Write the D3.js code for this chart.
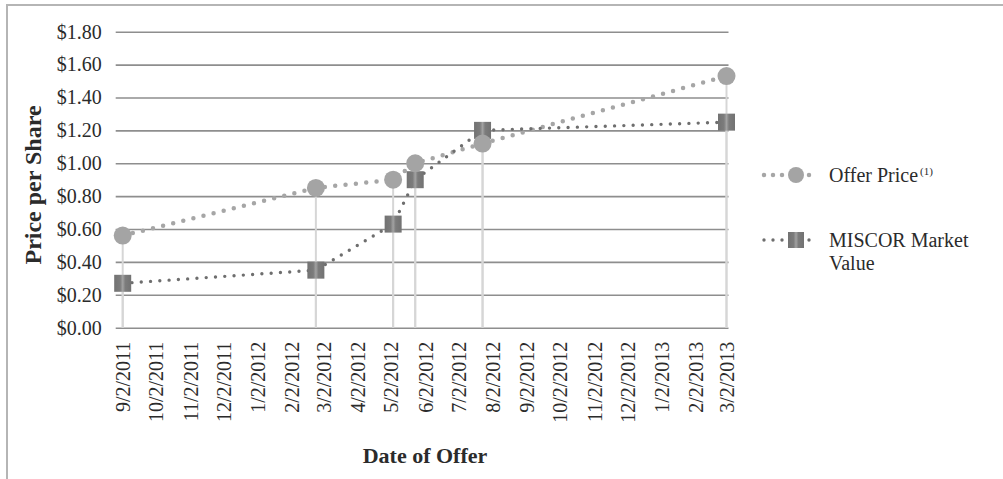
<!DOCTYPE html>
<html>
<head>
<meta charset="utf-8">
<script src="https://cdn.jsdelivr.net/npm/d3@7"></script>
<style>
  body { margin: 0; background: #fff; }
  text { font-family: "Liberation Serif", "Times New Roman", serif; fill: #2b2b2b; }
</style>
</head>
<body>
<div id="chart"></div>
<script>
"use strict";

// offer dates
var offerDates = ["2011-09-02", "2012-02-24", "2012-05-04", "2012-05-24", "2012-07-24", "2013-03-02"];
var offerPrice = [0.56, 0.85, 0.90, 1.00, 1.12, 1.53];
var marketValue = [0.27, 0.35, 0.63, 0.90, 1.20, 1.25];
var yTicks = [0, 0.2, 0.4, 0.6, 0.8, 1.0, 1.2, 1.4, 1.6, 1.8];
var xTickStart = "2011-09-02";
var xTickEnd = "2013-03-02";
var seriesNames = ["Offer Price", "MISCOR Market Value"];

var width = 1003, height = 479;
var margin = { top: 31.7, left: 122.7, right: 1003 - 726.5, bottom: 479 - 327.7 };

var parse = d3.timeParse("%Y-%m-%d");
var fmt = function(d) {
  return (d.getMonth() + 1) + "/" + d.getDate() + "/" + d.getFullYear();
};

var svg = d3.select("#chart").append("svg")
  .attr("width", width)
  .attr("height", height);

var defs = svg.append("defs");
var grad = defs.append("linearGradient").attr("id", "sqFill");
grad.append("stop").attr("offset", "0%").attr("stop-color", "#727272");
grad.append("stop").attr("offset", "35%").attr("stop-color", "#7c7c7c");
grad.append("stop").attr("offset", "50%").attr("stop-color", "#a2a2a2");
grad.append("stop").attr("offset", "65%").attr("stop-color", "#7c7c7c");
grad.append("stop").attr("offset", "100%").attr("stop-color", "#727272");

// outer frame (only left and top edges show)
svg.append("rect")
  .attr("x", 7).attr("y", 5)
  .attr("width", 1010).attr("height", 490)
  .attr("fill", "none")
  .attr("stroke", "#b5b5b5")
  .attr("stroke-width", 2);

var x = d3.scaleTime()
  .domain([parse(xTickStart), parse(xTickEnd)])
  .range([margin.left, width - margin.right]);
var y = d3.scaleLinear()
  .domain([0, 1.8])
  .range([height - margin.bottom, margin.top]);

var data = offerDates.map(function(d, i) {
  return { date: parse(d), offer: offerPrice[i], market: marketValue[i] };
});

// horizontal gridlines via the y axis
var yAxis = svg.append("g")
  .attr("transform", "translate(" + (margin.left - 7) + ",0)")
  .call(d3.axisLeft(y).tickValues(yTicks)
    .tickSize(-(width - margin.right - margin.left + 9))
    .tickPadding(14)
    .tickFormat(function(d) { return "$" + d.toFixed(2); }));
yAxis.select(".domain").remove();
yAxis.selectAll("line").attr("stroke", "#8e8e8e").attr("stroke-width", 1.6);
yAxis.selectAll("text")
  .attr("font-size", 20)
  .attr("fill", "#2b2b2b")
  .style("font-family", "'Liberation Serif', serif");

// x axis labels, one per month (on the 2nd)
var months = [];
for (var m = parse(xTickStart); m <= parse(xTickEnd); m = d3.timeMonth.offset(m, 1)) {
  months.push(m);
}
var xAxis = svg.append("g")
  .attr("transform", "translate(0," + (height - margin.bottom) + ")")
  .call(d3.axisBottom(x).tickValues(months).tickSize(0).tickFormat(fmt));
xAxis.select(".domain").remove();
xAxis.selectAll("text")
  .attr("font-size", 20)
  .attr("fill", "#2b2b2b")
  .style("font-family", "'Liberation Serif', serif")
  .attr("text-anchor", "end")
  .attr("transform", "rotate(-90)")
  .attr("x", -14)
  .attr("y", 0)
  .attr("dy", "0.35em");

// drop lines
var drops = svg.append("g");
["offer", "market"].forEach(function(k) {
  drops.selectAll(".drop-" + k)
    .data(data)
    .enter()
    .append("line")
    .attr("x1", function(d) { return x(d.date); })
    .attr("x2", function(d) { return x(d.date); })
    .attr("y1", function(d) { return y(d[k]); })
    .attr("y2", y(0))
    .attr("stroke", "#d6d6d6")
    .attr("stroke-width", 2);
});

var offerLine = d3.line()
  .x(function(d) { return x(d.date); })
  .y(function(d) { return y(d.offer); });
var marketLine = d3.line()
  .x(function(d) { return x(d.date); })
  .y(function(d) { return y(d.market); });

svg.append("path")
  .datum(data)
  .attr("d", offerLine)
  .attr("fill", "none")
  .attr("stroke", "#a6a6a6")
  .attr("stroke-width", 4.5)
  .attr("stroke-linecap", "round")
  .attr("stroke-dasharray", "0,10.4");

svg.append("path")
  .datum(data)
  .attr("d", marketLine)
  .attr("fill", "none")
  .attr("stroke", "#6e6e6e")
  .attr("stroke-width", 3.4)
  .attr("stroke-linecap", "round")
  .attr("stroke-dasharray", "0,9.3");

svg.selectAll(".sq")
  .data(data)
  .enter()
  .append("rect")
  .attr("class", "sq")
  .attr("x", function(d) { return x(d.date) - 8.5; })
  .attr("y", function(d) { return y(d.market) - 8.5; })
  .attr("width", 17)
  .attr("height", 17)
  .attr("fill", "url(#sqFill)");

svg.selectAll(".dot")
  .data(data)
  .enter()
  .append("circle")
  .attr("class", "dot")
  .attr("cx", function(d) { return x(d.date); })
  .attr("cy", function(d) { return y(d.offer); })
  .attr("r", 9)
  .attr("fill", "#a4a4a4");

// axis titles
svg.append("text")
  .attr("transform", "translate(41,185) rotate(-90)")
  .attr("text-anchor", "middle")
  .attr("font-size", 24)
  .attr("font-weight", "bold")
  .text("Price per Share");

svg.append("text")
  .attr("x", 425)
  .attr("y", 463)
  .attr("text-anchor", "middle")
  .attr("font-size", 22)
  .attr("font-weight", "bold")
  .text("Date of Offer");

// legend
var legend = svg.append("g");
var ly = [175, 240];
legend.append("line")
  .attr("x1", 764).attr("x2", 818)
  .attr("y1", ly[0]).attr("y2", ly[0])
  .attr("stroke", "#a6a6a6").attr("stroke-width", 4.5)
  .attr("stroke-linecap", "round").attr("stroke-dasharray", "0,9");
legend.append("circle")
  .attr("cx", 796).attr("cy", ly[0]).attr("r", 8).attr("fill", "#a4a4a4");
legend.append("line")
  .attr("x1", 764).attr("x2", 818)
  .attr("y1", ly[1]).attr("y2", ly[1])
  .attr("stroke", "#6e6e6e").attr("stroke-width", 3.4)
  .attr("stroke-linecap", "round").attr("stroke-dasharray", "0,9");
legend.append("rect")
  .attr("x", 788).attr("y", ly[1] - 8).attr("width", 16).attr("height", 16)
  .attr("fill", "url(#sqFill)");

var t1 = legend.append("text")
  .attr("x", 829).attr("y", ly[0] + 7)
  .attr("font-size", 20)
  .text(seriesNames[0]);
t1.append("tspan")
  .attr("font-size", 11)
  .attr("dy", -7)
  .attr("dx", 2)
  .text("(1)");

var t2 = legend.append("text")
  .attr("x", 829).attr("y", ly[1] + 7)
  .attr("font-size", 20);
t2.append("tspan").attr("x", 829).text("MISCOR Market");
t2.append("tspan").attr("x", 829).attr("dy", 23).text("Value");
</script>
</body>
</html>
